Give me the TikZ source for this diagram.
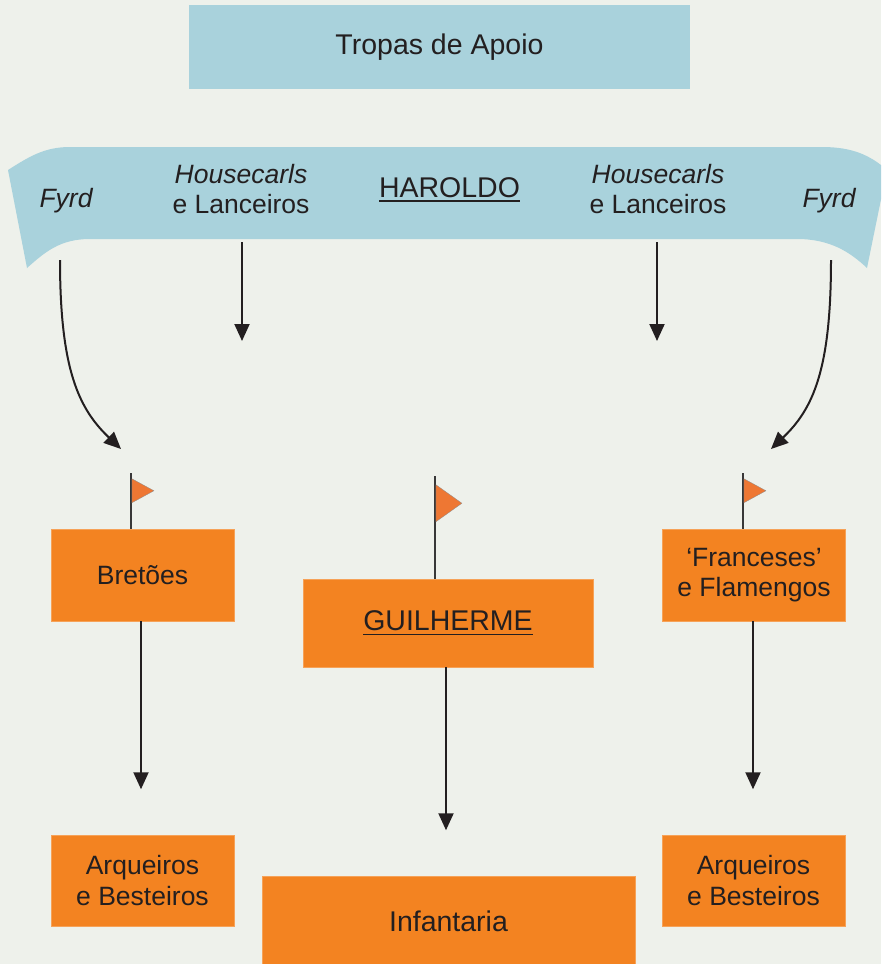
\documentclass[tikz,border=0pt]{standalone}
\usepackage{fontspec}
\setmainfont{Liberation Sans}
\usetikzlibrary{arrows.meta}
\definecolor{paper}{HTML}{EEF1EB}
\definecolor{sky}{HTML}{A9D2DC}
\definecolor{troop}{HTML}{F38321}
\definecolor{pennant}{HTML}{EE7733}
\definecolor{ink}{HTML}{231F20}
\newcommand\bigText{\fontsize{28.5}{32}\selectfont}
\newcommand\smallText{\fontsize{26.5}{30.5}\selectfont}
\newcommand\leader[1]{\setbox0\hbox{#1}\rlap{\rule[-4.5pt]{\wd0}{1.6pt}}\box0}
\newcommand\flankWidth{183pt}

\begin{document}
\begin{tikzpicture}[x=1pt, y=-1pt,
    troopbox/.style={fill=troop, draw=troop!75!white, line width=0.5pt, inner sep=0pt, text=ink, font=\smallText, align=center},
    bannertext/.style={text=ink, font=\smallText, align=center},
    order/.style={draw=ink, line width=2pt, -{Triangle[width=15pt,length=17pt]}},
    pole/.style={draw=black!78, line width=1.8pt}]
    % Background
    \fill [paper] (0,0) rectangle (881,964);
    \useasboundingbox (0,0) rectangle (881,964);
    \clip (0,0) rectangle (881,964);
    % Support troops
    \node [fill=sky, minimum width=501pt, minimum height=84pt, text=ink, font=\bigText] (apoio) at (439.5,47) {Tropas de Apoio};
    % Draw the banner of Harold's line
    \fill [sky] (8,170) .. controls (30,156) and (45,147) .. (70,147) -- (822,147)
        .. controls (852,147) and (870,155) .. (887,170) -- (867,268)
        .. controls (850,252) and (830,239) .. (797,239) -- (90,239)
        .. controls (60,239) and (45,252) .. (27,268) -- cycle;
    \node [bannertext, font=\smallText\itshape] (fyl) at (66,201) {Fyrd};
    \node [bannertext] (hcl) at (241,189) {\textit{Housecarls}\\e Lanceiros};
    \node [bannertext, font=\bigText] (harold) at (449.5,189.5) {\leader{HAROLDO}};
    \node [bannertext] (hcr) at (658,189) {\textit{Housecarls}\\e Lanceiros};
    \node [bannertext, font=\smallText\itshape] (fyr) at (829,201) {Fyrd};
    % Straight advances of the housecarls
    \foreach \n/\x in {hcl/242, hcr/657} {
        \coordinate (\n-out) at (\x,242);
        \coordinate (\n-in) at (\x,341);
        \draw [order] (\n-out) -- (\n-in);
    }
    % Curved advances of the fyrd
    \coordinate (fyl-out) at (60,260);
    \coordinate (fyl-in) at (121,449);
    \coordinate (fyr-out) at (831,260);
    \coordinate (fyr-in) at (771,449);
    \draw [order] (fyl-out) .. controls +(0,110) and +(-42,-40) .. (fyl-in);
    \draw [order] (fyr-out) .. controls +(0,110) and +(42,-40) .. (fyr-in);
    % Draw William's line
    \node [troopbox, minimum width=\flankWidth, minimum height=92pt] (bret) at (142.5,575) {Bretões};
    \node [troopbox, font=\bigText, minimum width=290pt, minimum height=88pt] (guil) at (448,623) {\leader{GUILHERME}};
    \node [troopbox, minimum width=\flankWidth, minimum height=92pt] (fran) at (754,575) {‘Franceses’\\e Flamengos};
    \node [troopbox, minimum width=\flankWidth, minimum height=91pt] (arql) at (142.5,880.5) {Arqueiros\\e Besteiros};
    \node [troopbox, minimum width=\flankWidth, minimum height=91pt] (arqr) at (753.5,880.5) {Arqueiros\\e Besteiros};
    \node [troopbox, font=\bigText, minimum width=373pt, minimum height=90pt] (inf) at (448.5,921) {Infantaria};
    % Flags on the poles
    \foreach \unit/\dx/\h/\gap/\fw/\fh in {bret/-11.5/56/6/22/24, guil/-13/103/9/26/37, fran/-11/56/6/22/24} {
        \draw [pole] ([xshift=\dx pt]\unit.north) -- ++(0,-\h) coordinate (\unit-top);
        \path [fill=pennant, draw=black!45, line width=0.3pt] ([xshift=0.9pt, yshift=-\gap pt]\unit-top) -- ++(\fw,\fh/2) -- ++(-\fw,\fh/2) -- cycle;
    }
    % Advances of William's line
    \foreach \unit/\dx/\len in {bret/-1.5/168, guil/-2/163, fran/-1/168}
        \draw [order] ([xshift=\dx pt]\unit.south) -- ++(0,\len) coordinate (\unit-out);
\end{tikzpicture}
\end{document}
